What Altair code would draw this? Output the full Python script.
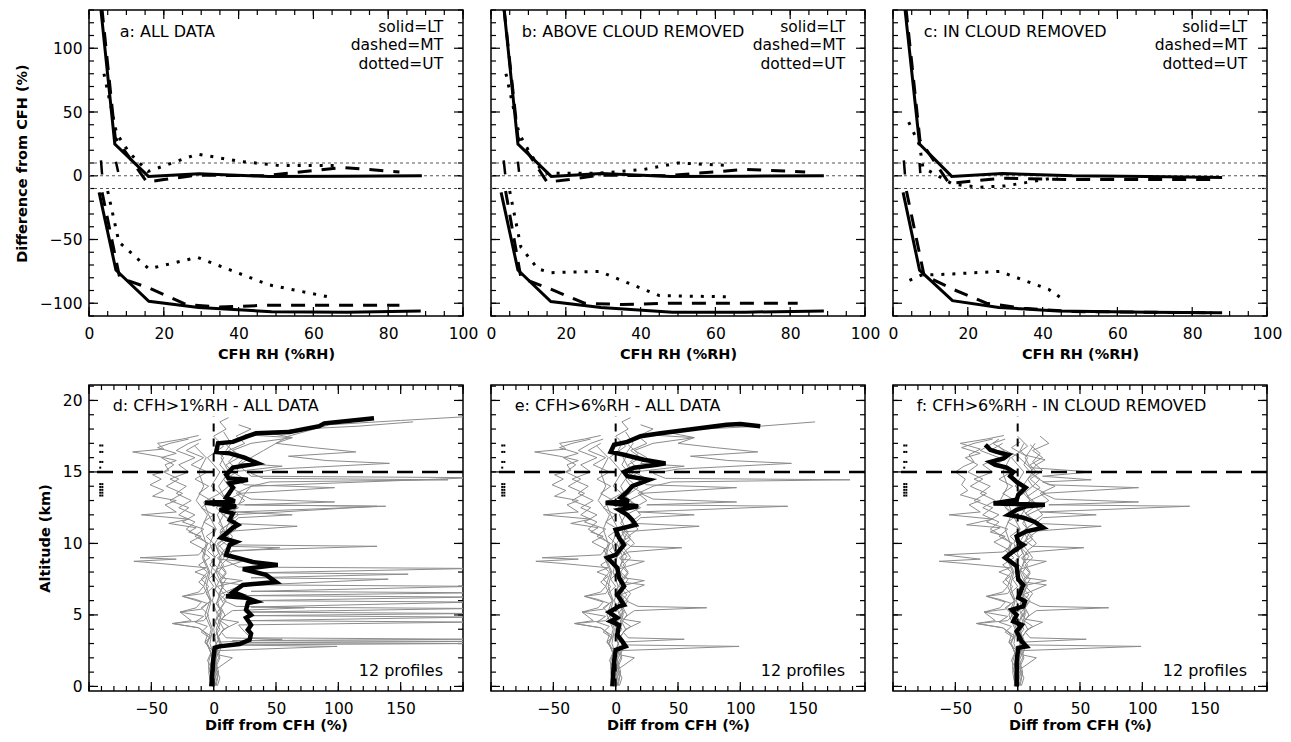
import altair as alt
import pandas as pd

FONT = "DejaVu Sans"

# ---------------- top row: difference from CFH vs CFH RH (x, y) ----------------
# panel a: ALL DATA
A_LT_UP = [(2.5, 150), (6.9, 24.8), (15.9, -0.5), (29.4, 1.5), (48, -0.5), (68, -0.3), (89, 0)]
A_LT_LO = [(2.7, -13), (7.2, -74), (16, -98.5), (29.3, -103.3), (48.8, -106.7), (69, -107), (88.7, -106)]
A_MT_UP = [(2.8, 150), (7.0, 30), (15.5, -5), (20, -3), (29, 0.5), (47, 0), (68, 6.5), (83, 3)]
A_MT_LO = [(3.5, -13), (8.2, -80), (16, -88), (26, -101), (35, -103), (48, -101.5), (68, -101.5), (83, -101.5)]
A_UT_UP = [(4.0, 80), (7.4, 33), (10.8, 18), (15.8, 3.4), (29, 17), (40, 11.4), (51, 8), (66, 8)]
A_UT_LO = [(5, -12), (8, -52), (16, -73), (29, -64), (48, -85.5), (64, -95)]
A_STUBS = [(1, 3.2, 12), (1, 3.5, 1), (2, 7.2, 11), (2, 7.8, 3)]

# panel b: ABOVE CLOUD REMOVED
B_LT_UP = [(2.8, 150), (7.2, 24.8), (16.1, -0.5), (29.4, 1.8), (48, -0.5), (68, -0.3), (89, 0)]
B_LT_LO = [(2.7, -13), (7.2, -74), (16, -98.6), (29.4, -103.3), (48.5, -107), (68, -107), (89, -106)]
B_MT_UP = [(2.8, 150), (7.2, 30), (15, -5), (21, -3), (29, 0.5), (47, 0), (68, 5), (84, 3)]
B_MT_LO = [(3.9, -12), (8, -80), (16, -89), (25, -100), (35, -101), (48, -100), (68, -100), (82, -100)]
B_UT_UP = [(4.0, 80), (7.5, 33), (10.4, 18), (14, 2), (29, 2), (41, 5), (50, 10), (64, 8)]
B_UT_LO = [(5, -12), (8, -56), (12.5, -73), (16, -76), (29, -75), (45, -94), (64, -95)]
B_STUBS = [(1, 3.4, 12), (1, 3.8, 1), (2, 7.2, 11), (2, 7.5, 3)]

# panel c: IN CLOUD REMOVED
C_LT_UP = [(2.5, 150), (7.1, 24.8), (15.7, -0.5), (29.2, 1.8), (48, 0), (68, -0.5), (88, -1.3)]
C_LT_LO = [(2.7, -13), (7.1, -74), (15.9, -98), (28.3, -103.3), (44, -106), (68, -107), (88, -107.5)]
C_MT_UP = [(2.8, 150), (7.2, 28), (15, -6), (22, -4), (29, -2), (48, -3), (68, -3), (87, -3)]
C_MT_LO = [(3.6, -12), (8.3, -78), (16, -89), (25, -100), (35, -104), (48, -106.5), (68, -107), (85, -107.5)]
C_UT_UP = [(4.2, 42), (7.1, 24), (8, 6.5), (16, -6.6), (23, -9), (30, -8), (44, -1.3)]
C_UT_LO = [(4.4, -82), (7.5, -78), (16, -77), (28.5, -75), (41.6, -89), (46, -98)]
C_STUBS = [(1, 2.9, 12), (1, 3.2, 1), (2, 7.1, 10), (2, 7.3, 2)]

TOP_REF = [10, 0, -10]
TOP_X_LABELS = [0, 20, 40, 60, 80, 100]
TOP_Y_LABELS = [-100, -50, 0, 50, 100]
TOP_X_MAJOR = list(range(0, 101, 20))
TOP_X_MINOR = list(range(0, 101, 5))
TOP_Y_MAJOR = list(range(-100, 101, 50))
TOP_Y_MINOR = list(range(-110, 131, 10))

# ---------------- bottom row: profiles (altitude km, diff %) ----------------
B1 = [(0.05, -3), (0.6, -1), (1.2, -4), (1.75, -4), (2.3, -2), (2.9, -5), (3.1, -7), (3.6, -5), (4.1, -12),
      (4.4, -33), (4.6, -18), (5.2, -27), (5.5, -14), (5.9, -10), (6.3, -25), (6.6, -12), (7.0, -8), (7.3, -12),
      (7.7, -6), (8.0, -15), (8.3, -6), (8.6, -43), (8.75, -64), (8.9, -30), (9.0, -59), (9.2, -12), (9.6, -8),
      (10.1, -19), (10.5, -10), (10.8, -20), (11.1, -14), (11.4, -36), (11.7, -20), (12.0, -58), (12.2, -30),
      (12.7, -39), (13.0, -30), (13.3, -49), (13.7, -40), (14.1, -51), (14.5, -42), (14.8, -49), (15.1, -36),
      (15.5, -39), (15.8, -30), (16.1, -45), (16.4, -65), (16.6, -40), (17.0, -45), (17.3, -25), (17.55, -12)]
B2 = [(0.05, 1), (0.7, 3), (1.4, 2), (2.0, 5), (2.6, 3), (3.0, 6), (3.5, 4), (4.0, 8), (4.5, 5), (5.0, 9),
      (5.5, 6), (6.0, 10), (6.5, 4), (7.0, 8), (7.5, 5), (8.0, 10), (8.5, 6), (9.0, 12), (9.5, 8), (10.0, 15),
      (10.5, 10), (11.0, 18), (11.5, 12), (12.0, 20), (12.5, 15), (13.0, 25), (13.5, 18), (14.0, 30), (14.3, 45),
      (14.45, 188), (14.55, 40), (14.9, 30), (15.2, 50), (15.6, 141), (15.8, 90), (16.1, 60), (16.4, 114),
      (16.7, 80), (17.0, 50), (17.4, 63), (17.8, 40), (18.0, 70), (18.2, 116), (18.5, 160)]
B3 = [(0.05, 0), (0.8, 2), (1.5, 0), (2.2, 3), (2.8, 1), (3.3, 4), (3.8, 2), (4.3, 5), (4.8, 3), (5.3, 6),
      (5.8, 2), (6.3, 5), (6.8, 1), (7.3, 4), (7.8, 0), (8.3, 3), (8.8, -2), (9.3, 4), (9.8, 2), (10.3, 8),
      (10.8, 5), (11.2, 67), (11.4, 15), (11.8, 20), (12.0, 63), (12.2, 18), (12.6, 138), (12.7, 25), (12.9, 97),
      (13.1, 30), (13.5, 20), (13.9, 97), (14.1, 25), (14.6, 15), (15.0, 10), (15.5, 5), (16.0, 8), (16.5, 2),
      (17.0, 5)]
B4 = [(0.05, 2), (0.5, 0), (1.0, 3), (1.5, 1), (2.0, 4), (2.5, 2), (2.8, 99), (2.9, 8), (3.1, 4), (3.3, 55),
      (3.4, 10), (3.8, 6), (4.2, 12), (4.6, 5), (5.0, 10), (5.3, 15), (5.5, 73), (5.6, 18), (6.0, 8), (6.5, 12),
      (7.0, 6), (7.5, 10), (8.0, 4), (8.5, 8), (9.0, 3), (9.4, 10), (9.7, 53), (9.8, 12), (10.2, 6), (10.8, 10),
      (11.4, 4), (12.0, 8), (12.5, 2), (13.0, 10), (13.5, 5), (14.0, 12), (14.5, 8), (15.0, 15), (15.5, 10),
      (16.0, 20), (16.5, 12), (17.0, 25), (17.5, 18), (18.0, 30), (18.3, 20)]
B5 = [(0.05, -1), (0.6, -3), (1.2, -1), (1.8, -5), (2.4, -2), (3.0, -6), (3.4, -3), (3.8, -10), (4.2, -5),
      (4.5, -15), (4.9, -8), (5.2, -27), (5.4, -10), (5.8, -5), (6.1, -15), (6.3, -25), (6.5, -8), (7.0, -4),
      (7.5, -10), (8.0, -5), (8.5, -12), (9.0, -3), (9.5, -10), (10.0, -4), (10.5, -15), (11.0, -8), (11.5, -25),
      (12.0, -15), (12.5, -28), (13.0, -18), (13.5, -30), (14.0, -22), (14.5, -35), (15.0, -20), (15.5, -28),
      (16.0, -15), (16.5, -30), (17.0, -20), (17.3, -10)]
B6 = [(0.05, 1), (0.7, -1), (1.4, 2), (2.1, 0), (2.8, 3), (3.4, 0), (4.0, 5), (4.6, 1), (5.2, 7), (5.8, 2),
      (6.4, 9), (7.0, 3), (7.4, 23), (7.6, 6), (8.2, 2), (8.75, 23), (8.9, 4), (9.5, 8), (10.0, 3), (10.5, 12),
      (11.0, 6), (11.5, 15), (12.0, 8), (12.5, 20), (13.0, 10), (13.5, 22), (14.0, 12), (14.5, 25), (15.0, 15),
      (15.4, 55), (15.6, 20), (16.0, 25), (16.5, 15), (17.0, 30), (17.4, 63), (17.6, 25)]
B7 = [(0.05, -2), (0.8, 0), (1.6, -2), (2.4, 0), (3.1, -7), (3.5, -2), (4.1, -12), (4.4, -33), (4.6, -8),
      (5.0, -4), (5.5, -10), (6.0, -2), (6.5, -6), (7.0, 0), (7.5, -4), (8.0, 2), (8.5, -3), (9.0, 1), (9.5, -5),
      (10.0, 0), (10.5, -6), (11.0, 2), (11.5, -8), (12.0, 0), (12.5, -10), (13.0, -2), (13.5, -12), (14.0, -4),
      (14.5, -15), (15.0, -5), (15.5, -18), (16.0, -8), (16.5, -22), (17.0, -12)]
B8 = [(0.05, 3), (0.6, 5), (1.2, 2), (2.0, 15), (2.2, 4), (2.8, 6), (3.4, 3), (4.0, 8), (4.5, 20), (4.7, 6),
      (5.2, 3), (5.8, 8), (6.4, 4), (7.1, 23), (7.3, 5), (7.9, 10), (8.5, 4), (9.1, 9), (9.7, 3), (10.3, 12),
      (10.9, 5), (11.5, 14), (12.1, 6), (12.7, 16), (13.3, 8), (13.9, 18), (14.5, 10), (15.1, 20), (15.7, 12),
      (16.3, 18), (16.9, 10)]
B9 = [(0.05, 0), (1.0, -2), (2.0, 1), (3.0, -3), (4.0, -1), (5.0, -5), (6.0, -2), (7.0, -6), (8.0, -3),
      (9.0, -8), (10.0, -5), (10.5, -12), (11.0, -22), (11.5, -15), (12.0, -28), (12.5, -20), (13.0, -35),
      (13.5, -25), (14.0, -38), (14.5, -28), (15.0, -40), (15.5, -32), (16.0, -42), (16.3, -30), (16.7, -45),
      (17.0, -35), (17.3, -20)]
B10 = [(0.05, -1), (1.0, 1), (2.0, -1), (3.0, 2), (4.0, 0), (5.0, 3), (6.0, -1), (7.0, 2), (8.0, -2), (9.0, 1),
       (10.0, -3), (11.0, 2), (12.0, -4), (12.9, -8), (13.5, 5), (14.0, -2), (15.0, 5), (16.0, -5), (16.8, 8),
       (17.5, 0), (18.0, 10), (18.5, 5), (18.8, 12)]
B11 = [(0.05, 2), (1.0, 4), (2.0, 1), (3.0, 5), (4.0, 2), (5.0, 6), (6.0, 3), (7.0, 7), (8.0, 2), (9.0, 6),
       (10.0, 1), (11.0, 8), (12.0, 3), (13.0, 10), (14.0, 4), (15.0, 12), (16.0, 6), (17.0, 14), (17.8, 8)]
B12 = [(0.05, -2), (1.0, -4), (2.0, -1), (3.0, -5), (4.0, -2), (5.0, -7), (6.0, -3), (7.0, -8), (8.0, -4),
       (9.0, -9), (10.0, -6), (11.0, -10), (12.0, -5), (13.0, -14), (14.0, -8), (15.0, -12), (16.0, -6),
       (16.8, -15)]

# dry-layer spikes only present with CFH>1%RH (panel d)
D_S1 = [(0.05, 0), (1.0, 1), (2.0, 2), (2.9, 3), (3.0, 210), (3.05, 20), (3.15, 210), (3.2, 15), (3.3, 210),
        (3.4, 30), (3.8, 25), (4.3, 20), (4.5, 210), (4.6, 28), (4.85, 210), (4.95, 30), (5.1, 210), (5.2, 25),
        (5.45, 210), (5.55, 30), (5.9, 210), (6.0, 28), (6.25, 210), (6.35, 25), (6.55, 210), (6.65, 30),
        (7.0, 210), (7.1, 35), (7.5, 140), (7.6, 30), (7.85, 156), (7.95, 35), (8.25, 210), (8.35, 20),
        (8.8, 10), (9.5, 15), (9.8, 131), (9.9, 12), (10.5, 15), (11.0, 10)]
D_S2 = [(11.0, 10), (12.0, 15), (12.6, 131), (12.7, 20), (13.5, 25), (14.0, 30), (14.6, 210), (14.7, 30),
        (15.5, 20), (16.5, 40), (17.5, 60), (18.3, 93), (18.6, 150), (18.9, 210)]

# in-cloud points removed (panel f)
F_B1 = [(0.05, -3), (0.6, -1), (1.2, -4), (1.75, -4), (2.3, -2), (2.9, -5), (3.1, -7), (3.6, -5), (4.1, -12),
        (4.4, -33), (4.6, -18), (5.2, -27), (5.5, -14), (5.9, -10), (6.3, -25), (6.6, -12), (7.0, -8),
        (7.3, -12), (7.7, -6), (8.0, -15), (8.3, -6), (8.6, -43), (8.75, -63), (8.9, -30), (9.2, -59),
        (9.4, -12), (9.6, -8), (10.1, -19), (10.5, -10), (10.8, -22), (11.1, -14), (11.3, -41), (11.7, -20),
        (12.0, -55), (12.2, -30), (12.7, -39), (13.0, -30), (13.4, -46), (13.7, -40), (14.1, -45), (14.5, -42),
        (15.0, -50), (15.4, -43), (15.7, -35), (16.2, -39), (16.6, -30), (17.0, -46), (17.3, -25), (17.55, -11)]
F_B2 = [(0.05, 1), (0.7, 3), (1.4, 2), (2.0, 5), (2.6, 3), (3.0, 6), (3.5, 4), (4.0, 8), (4.5, 5), (5.0, 9),
        (5.5, 6), (6.0, 10), (6.5, 4), (7.0, 8), (7.5, 5), (8.0, 10), (8.5, 6), (9.0, 12), (9.5, 8), (10.0, 15),
        (10.5, 10), (11.0, 18), (11.5, 12), (12.0, 20), (12.5, 15), (13.0, 25), (13.5, 18), (14.0, 30),
        (14.3, 20), (14.45, 59), (14.7, 20), (15.0, 59), (15.3, 10), (15.7, 5), (16.1, 0), (16.5, -10),
        (17.0, -20), (17.3, -15)]
F_B6 = [(0.05, 1), (0.7, -1), (1.4, 2), (2.1, 0), (2.8, 3), (3.4, 0), (4.0, 5), (4.6, 1), (5.2, 7), (5.8, 2),
        (6.4, 9), (7.0, 3), (7.4, 23), (7.6, 6), (8.2, 2), (8.75, 23), (8.9, 4), (9.5, 8), (10.0, 3),
        (10.5, 12), (11.0, 6), (11.5, 15), (12.0, 8), (12.5, 20), (13.0, 10), (13.5, 22), (14.0, 12),
        (14.5, 18), (15.0, 10), (15.5, 15), (15.85, 22), (16.2, 5), (16.7, -5), (17.1, 2)]

# mean profiles
D_MEAN = [(0, -1.9), (1.75, -0.5), (2.7, 0.8), (2.8, 4.8), (2.96, 20.8), (3.26, 28.8), (3.7, 30), (3.96, 27.4),
          (4.3, 30), (4.8, 26), (5.0, 30), (5.36, 26), (5.83, 27.4), (5.94, 34), (6.2, 26), (6.3, 10),
          (6.45, 20), (6.6, 15.4), (7.1, 23.4), (7.2, 36.7), (7.3, 50), (7.8, 42), (8.2, 23.4), (8.5, 51.4),
          (8.7, 31.4), (9.2, 10), (9.9, 12.8), (10.1, 18), (10.4, 6), (11.1, 15.4), (11.3, 19.4), (11.65, 12.8),
          (12.1, 15.4), (12.35, 4.8), (12.6, 18), (12.85, -7), (12.95, 17), (13.2, 10), (13.9, 15.4),
          (14.2, 12.8), (14.45, 27.4), (14.55, 12), (14.8, 10), (15.3, 15.4), (15.6, 35.4), (16.0, 24.8),
          (16.3, 12.8), (16.4, 2), (17.0, 3.5), (17.1, 15.4), (17.5, 27.4), (17.7, 34), (17.8, 60.7),
          (18.2, 84.7), (18.4, 88.7), (18.76, 128.6)]
E_MEAN = [(0, -2.7), (1.75, -1.3), (2.56, 0), (2.8, 8), (3.15, 5.3), (3.6, 1.3), (4.3, 2.7), (4.55, -4),
          (4.8, 1.3), (5.2, -5.3), (5.6, 2.7), (5.7, 6.7), (6.4, 1.3), (7.0, 6.7), (7.6, 2.7), (8.3, 1.3),
          (9.0, -6.7), (9.2, 0), (9.9, 6.7), (10.4, 2.7), (10.95, 0), (11.3, 16), (11.65, 13.3), (12.0, 9.3),
          (12.35, 2.7), (12.6, 18), (12.85, -8), (12.95, 10.6), (13.2, 4), (13.6, 9.3), (14.0, 13.3),
          (14.45, 26.6), (14.7, 9.3), (15.0, 6.7), (15.3, 14.6), (15.5, 33.3), (15.6, 40), (15.85, 22.6),
          (16.2, 6.7), (16.4, -4), (16.9, -1.3), (17.1, 9.3), (17.5, 20), (17.7, 36), (18.3, 89), (18.35, 100),
          (18.2, 116)]
F_MEAN = [(0, -0.8), (1.75, -0.8), (2.7, 0.5), (2.8, 7), (3.15, 3.2), (3.85, -0.8), (4.3, 3.2), (4.55, -3.5),
          (5.0, -0.8), (5.36, -4.8), (5.6, 4.5), (5.95, 5.9), (6.2, 0.5), (7.1, 4.5), (7.5, 0.5), (8.4, -0.8),
          (8.75, -6), (9.0, -10), (9.45, -3.5), (9.9, 4.5), (10.1, 0.5), (10.5, -0.8), (10.85, 7), (11.1, 20.5),
          (11.5, 13.8), (11.8, 4.5), (12.0, -7.5), (12.35, -0.8), (12.6, 7), (12.7, 21.8), (12.8, -19.4),
          (13.05, -0.8), (13.4, 0.5), (13.9, 6.4), (14.3, -0.8), (14.7, -6), (15.0, -3.5), (15.3, -8.8),
          (15.5, -18), (15.7, -22), (15.95, -11.4), (16.2, -7.5), (16.4, -16.8), (16.55, -22), (16.8, -24.8),
          (16.9, -26)]

# tropopause markers (two columns of dots)
TROP_COL1 = [16.85, 16.4, 15.7, 15.3, 14.15, 13.95, 13.75, 13.55, 13.35]
TROP_COL2 = [16.85, 16.4, 15.7, 14.15, 13.95, 13.75, 13.55, 13.35]

BOT_X_LABELS = [-50, 0, 50, 100, 150]
BOT_Y_LABELS = [0, 5, 10, 15, 20]
BOT_X_MAJOR = list(range(-100, 201, 50))
BOT_X_MINOR = list(range(-100, 201, 10))
BOT_Y_MAJOR = list(range(0, 21, 5))
BOT_Y_MINOR = list(range(0, 22, 1))

W, H = 374, 306


def line_df(pairs, seg=0, swap=False):
    rows = []
    for i, p in enumerate(pairs):
        a, b = p
        x, y = (b, a) if swap else (a, b)
        rows.append({"x": x, "y": y, "seg": seg, "i": i})
    return pd.DataFrame(rows)


def tick_layers(X, Y, xmaj, xmin, ymaj, ymin):
    layers = []
    for vals, ln in ((xmin, 5), (xmaj, 9)):
        base = alt.Chart(pd.DataFrame({"v": vals})).mark_rule(color="black", strokeWidth=1.2)
        layers.append(base.encode(x=X("v"), y=alt.value(H), y2=alt.value(H - ln)))
        layers.append(base.encode(x=X("v"), y=alt.value(0), y2=alt.value(ln)))
    for vals, ln in ((ymin, 5), (ymaj, 9)):
        base = alt.Chart(pd.DataFrame({"v": vals})).mark_rule(color="black", strokeWidth=1.2)
        layers.append(base.encode(y=Y("v"), x=alt.value(0), x2=alt.value(ln)))
        layers.append(base.encode(y=Y("v"), x=alt.value(W), x2=alt.value(W - ln)))
    return layers


def top_panel(lt, mt, ut, stubs, label, show_y):
    xs = alt.Scale(domain=[0, 100], nice=False, zero=False)
    ys = alt.Scale(domain=[-110, 130], nice=False, zero=False)
    xax = alt.Axis(values=TOP_X_LABELS, title="CFH RH (%RH)", labelPadding=10, titlePadding=6)
    yax = (alt.Axis(values=TOP_Y_LABELS, title="Difference from CFH (%)", labelPadding=7, titlePadding=10)
           if show_y else None)

    def X(f):
        return alt.X(f, type="quantitative", scale=xs, axis=xax)

    def Y(f):
        return alt.Y(f, type="quantitative", scale=ys, axis=yax)

    layers = tick_layers(X, Y, TOP_X_MAJOR, TOP_X_MINOR, TOP_Y_MAJOR, TOP_Y_MINOR)

    ref = pd.DataFrame({"v": TOP_REF})
    layers.append(alt.Chart(ref).mark_rule(color="#555", strokeWidth=1, strokeDash=[3, 3]).encode(y=Y("v")))

    styles = [(lt, []), (mt, [14, 10]), (ut, [3, 8])]
    for (up, lo), dash in styles:
        df = pd.concat([line_df(up, 0), line_df(lo, 1)])
        mk = dict(color="black", strokeWidth=3, clip=True)
        if dash:
            mk["strokeDash"] = dash
        layers.append(alt.Chart(df).mark_line(**mk).encode(
            x=X("x"), y=Y("y"), detail="seg:N", order="i:Q"))

    sdf = pd.DataFrame([{"seg": s, "x": x, "y": y, "i": k} for k, (s, x, y) in enumerate(stubs)])
    layers.append(alt.Chart(sdf).mark_line(color="black", strokeWidth=2.5).encode(
        x=X("x"), y=Y("y"), detail="seg:N", order="i:Q"))

    txt = pd.DataFrame({"x": [8.2], "y": [112.4], "t": [label]})
    layers.append(alt.Chart(txt).mark_text(align="left", baseline="middle", font=FONT, fontSize=16).encode(
        x=X("x"), y=Y("y"), text="t:N"))
    leg = pd.DataFrame({"x": [94.7] * 3, "y": [116.3, 102.2, 87.6],
                        "t": ["solid=LT", "dashed=MT", "dotted=UT"]})
    layers.append(alt.Chart(leg).mark_text(align="right", baseline="middle", font=FONT, fontSize=15.5).encode(
        x=X("x"), y=Y("y"), text="t:N"))

    return alt.layer(*layers).properties(width=W, height=H)


def bottom_panel(grays, mean, label, show_y):
    xs = alt.Scale(domain=[-100, 200], nice=False, zero=False)
    ys = alt.Scale(domain=[-0.32, 21.08], nice=False, zero=False)
    xax = alt.Axis(values=BOT_X_LABELS, title="Diff from CFH (%)", labelPadding=10, titlePadding=2)
    yax = (alt.Axis(values=BOT_Y_LABELS, title="Altitude (km)", labelPadding=7, titlePadding=10)
           if show_y else None)

    def X(f):
        return alt.X(f, type="quantitative", scale=xs, axis=xax)

    def Y(f):
        return alt.Y(f, type="quantitative", scale=ys, axis=yax)

    layers = tick_layers(X, Y, BOT_X_MAJOR, BOT_X_MINOR, BOT_Y_MAJOR, BOT_Y_MINOR)

    gdf = pd.concat([line_df(g, k, swap=True) for k, g in enumerate(grays)])
    layers.append(alt.Chart(gdf).mark_line(color="#8c8c8c", strokeWidth=1, clip=True).encode(
        x=X("x"), y=Y("y"), detail="seg:N", order="i:Q"))

    layers.append(alt.Chart(pd.DataFrame({"v": [15]})).mark_rule(
        color="black", strokeWidth=2.5, strokeDash=[16, 9]).encode(y=Y("v")))
    layers.append(alt.Chart(pd.DataFrame({"x": [0], "y": [0], "y2": [18.9]})).mark_rule(
        color="black", strokeWidth=2, strokeDash=[8, 7]).encode(x=X("x"), y=Y("y"), y2="y2:Q"))

    tp = pd.DataFrame({"x": [-91] * len(TROP_COL1) + [-89.3] * len(TROP_COL2),
                       "y": TROP_COL1 + TROP_COL2})
    layers.append(alt.Chart(tp).mark_square(color="black", size=4, opacity=1).encode(x=X("x"), y=Y("y")))

    layers.append(alt.Chart(line_df(mean, 0, swap=True)).mark_line(
        color="black", strokeWidth=4.5, clip=True).encode(x=X("x"), y=Y("y"), order="i:Q"))

    txt = pd.DataFrame({"x": [-81], "y": [19.64], "t": [label]})
    layers.append(alt.Chart(txt).mark_text(align="left", baseline="middle", font=FONT, fontSize=16).encode(
        x=X("x"), y=Y("y"), text="t:N"))
    prof = pd.DataFrame({"x": [184], "y": [1.05], "t": ["12 profiles"]})
    layers.append(alt.Chart(prof).mark_text(align="right", baseline="middle", font=FONT, fontSize=16).encode(
        x=X("x"), y=Y("y"), text="t:N"))

    return alt.layer(*layers).properties(width=W, height=H)


def cut(p, top=17.6):
    return [q for q in p if q[0] <= top]


base = [B1, B2, B3, B4, B5, B6, B7, B8, B9, B10, B11, B12]
d_gray = base + [D_S1, D_S2]
e_gray = base
f_gray = [cut(p) for p in [F_B1, F_B2, B3, B4, B5, F_B6, B7, B8, B9, B10, B11, B12]]

pa = top_panel((A_LT_UP, A_LT_LO), (A_MT_UP, A_MT_LO), (A_UT_UP, A_UT_LO), A_STUBS, "a: ALL DATA", True)
pb = top_panel((B_LT_UP, B_LT_LO), (B_MT_UP, B_MT_LO), (B_UT_UP, B_UT_LO), B_STUBS, "b: ABOVE CLOUD REMOVED", False)
pc = top_panel((C_LT_UP, C_LT_LO), (C_MT_UP, C_MT_LO), (C_UT_UP, C_UT_LO), C_STUBS, "c: IN CLOUD REMOVED", False)

pd_ = bottom_panel(d_gray, D_MEAN, "d: CFH>1%RH - ALL DATA", True)
pe = bottom_panel(e_gray, E_MEAN, "e: CFH>6%RH - ALL DATA", False)
pf = bottom_panel(f_gray, F_MEAN, "f: CFH>6%RH - IN CLOUD REMOVED", False)

chart = alt.concat(pa, pb, pc, pd_, pe, pf, columns=3, spacing={"row": 69, "column": 28},
                   bounds="flush").properties(
    padding={"left": 5, "top": 0, "right": 0, "bottom": 0}
).configure(background="white").configure_view(
    stroke="black", strokeWidth=1.5
).configure_axis(
    labelFont=FONT, labelFontSize=15.5, labelColor="black",
    titleFont=FONT, titleFontSize=14.5, titleFontWeight="bold", titleColor="black",
    ticks=False, domain=False, grid=False, labelFlush=False, labelOverlap=False
)

chart.save("out.html", embed_options={"renderer": "svg", "actions": False})
